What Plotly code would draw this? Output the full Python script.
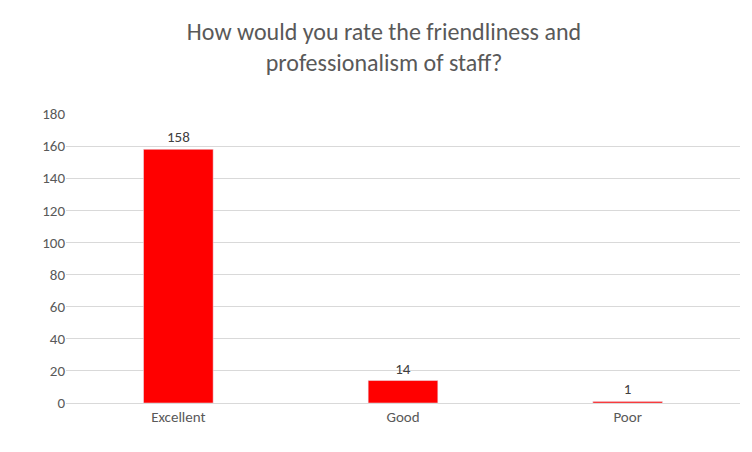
import plotly.graph_objects as go

# Data
categories = ["Excellent", "Good", "Poor"]
counts = [158, 14, 1]
y_ticks = list(range(0, 181, 20))

fig = go.Figure()
fig.add_trace(go.Bar(
    x=categories, y=counts,
    marker_color="#FF0000",
    text=counts, textposition="outside",
    textfont=dict(size=15, color="#404040"),
    cliponaxis=False,
))

fig.update_layout(
    width=752, height=452,
    margin=dict(l=58, r=20, t=106, b=57),
    paper_bgcolor="white", plot_bgcolor="white",
    font=dict(family="Carlito, Lato, sans-serif", color="#595959"),
    title=dict(text="How would you rate the friendliness and<br>professionalism of staff?",
               x=0.5, xanchor="center", y=0.93, yanchor="top",
               font=dict(size=24, color="#595959")),
    bargap=0.69,
    showlegend=False,
)
fig.update_yaxes(range=[0, 180], tickvals=y_ticks, showgrid=True,
                 gridcolor="#D9D9D9", zeroline=False, ticks="",
                 tickfont=dict(size=15, color="#595959"))
fig.update_xaxes(showline=True, linecolor="#D9D9D9",
                 tickfont=dict(size=15, color="#595959"))

fig.write_html("out.html")
